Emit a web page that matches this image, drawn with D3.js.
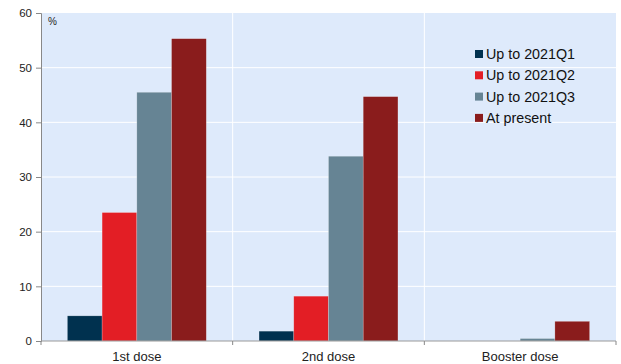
<!DOCTYPE html>
<html>
<head>
<meta charset="utf-8">
<script src="https://cdn.jsdelivr.net/npm/d3@7"></script>
<style>
  html, body { margin: 0; padding: 0; background: #fff; }
  svg { display: block; font-family: Arial, "Liberation Sans", sans-serif; }
</style>
</head>
<body>
<svg id="chart" width="621" height="364"></svg>
<script>
// Vaccination share by dose, %
const categories = ["1st dose", "2nd dose", "Booster dose"];
const seriesNames = ["Up to 2021Q1", "Up to 2021Q2", "Up to 2021Q3", "At present"];
const upTo2021Q1 = [4.6, 1.8, 0];
const upTo2021Q2 = [23.5, 8.2, 0];
const upTo2021Q3 = [45.5, 33.8, 0.45];
const atPresent  = [55.3, 44.7, 3.6];
const yTicks = [0, 10, 20, 30, 40, 50, 60];

const seriesValues = [upTo2021Q1, upTo2021Q2, upTo2021Q3, atPresent];
const colors = ["#00314F", "#E31E25", "#668494", "#8A1C1C"];

const svg = d3.select("#chart");
const margin = { left: 41, top: 13, right: 5, bottom: 23 };
const width = 621 - margin.left - margin.right;
const height = 364 - margin.top - margin.bottom;

const g = svg.append("g").attr("transform", `translate(${margin.left},${margin.top})`);

const x0 = d3.scaleBand().domain(categories).range([0, width]).paddingInner(0).paddingOuter(0);
const x1 = d3.scaleBand().domain(seriesNames).range([0, x0.bandwidth()]).paddingInner(0).paddingOuter(0.76);
const y = d3.scaleLinear().domain([0, 60]).range([height, 0]);

// plot background
g.append("rect").attr("width", width).attr("height", height).attr("fill", "#DEEAFB");

// horizontal gridlines
g.selectAll(".hgrid").data(yTicks.filter(t => t > 0 && t < 60)).enter()
  .append("line")
  .attr("x1", 0).attr("x2", width)
  .attr("y1", d => y(d)).attr("y2", d => y(d))
  .attr("stroke", "#fff").attr("stroke-width", 1);

// vertical separators between categories
g.selectAll(".vgrid").data(categories.slice(1)).enter()
  .append("line")
  .attr("x1", d => x0(d)).attr("x2", d => x0(d))
  .attr("y1", 0).attr("y2", height)
  .attr("stroke", "#fff").attr("stroke-width", 1);

// bars
const groups = g.selectAll(".grp").data(categories).enter()
  .append("g").attr("transform", d => `translate(${x0(d)},0)`);

groups.selectAll("rect")
  .data((c, ci) => seriesNames.map((s, si) => ({ s, v: seriesValues[si][ci], color: colors[si] })))
  .enter().append("rect")
  .filter(d => d.v > 0)
  .attr("x", d => x1(d.s))
  .attr("width", x1.bandwidth())
  .attr("y", d => y(d.v))
  .attr("height", d => y(0) - y(d.v))
  .attr("fill", d => d.color)
  .attr("stroke", "rgba(255,255,255,0.35)")
  .attr("stroke-width", 0.6);

// y axis
const yAxis = d3.axisLeft(y).tickValues(yTicks).tickSize(5).tickPadding(4);
const ya = g.append("g").call(yAxis);
ya.select(".domain").attr("stroke", "#888");
ya.selectAll(".tick line").attr("stroke", "#888");
ya.selectAll(".tick text").attr("font-size", 11.5).attr("fill", "#222")
  .attr("font-family", "Arial, 'Liberation Sans', sans-serif");

// x axis with ticks at category boundaries
const xa = g.append("g").attr("transform", `translate(0,${height})`);
xa.append("line").attr("x1", 0).attr("x2", width).attr("y1", 0).attr("y2", 0).attr("stroke", "#999").attr("stroke-width", 1.2);
xa.selectAll(".xt").data(categories.concat(["__end"])).enter()
  .append("line")
  .attr("x1", (d, i) => i < categories.length ? x0(d) : width)
  .attr("x2", (d, i) => i < categories.length ? x0(d) : width)
  .attr("y1", 0).attr("y2", 4)
  .attr("stroke", "#888");
xa.selectAll(".xl").data(categories).enter()
  .append("text")
  .attr("x", d => x0(d) + x0.bandwidth() / 2)
  .attr("y", 19.5)
  .attr("text-anchor", "middle")
  .attr("font-size", 13)
  .attr("fill", "#222")
  .text(d => d);

// unit label
g.append("text").attr("x", 7).attr("y", 12).attr("font-size", 10).attr("fill", "#222").text("%");

// legend
const legend = g.append("g").attr("transform", `translate(${475 - margin.left},${54 - margin.top})`);
const li = legend.selectAll(".li").data(seriesNames).enter()
  .append("g").attr("transform", (d, i) => `translate(0,${i * 21.3})`);
li.append("rect").attr("x", 0).attr("y", -4).attr("width", 8).attr("height", 8)
  .attr("fill", (d, i) => colors[i]);
li.append("text").attr("x", 11).attr("y", 0).attr("dy", "0.36em")
  .attr("font-size", 14.3).attr("fill", "#111").text(d => d);
</script>
</body>
</html>
